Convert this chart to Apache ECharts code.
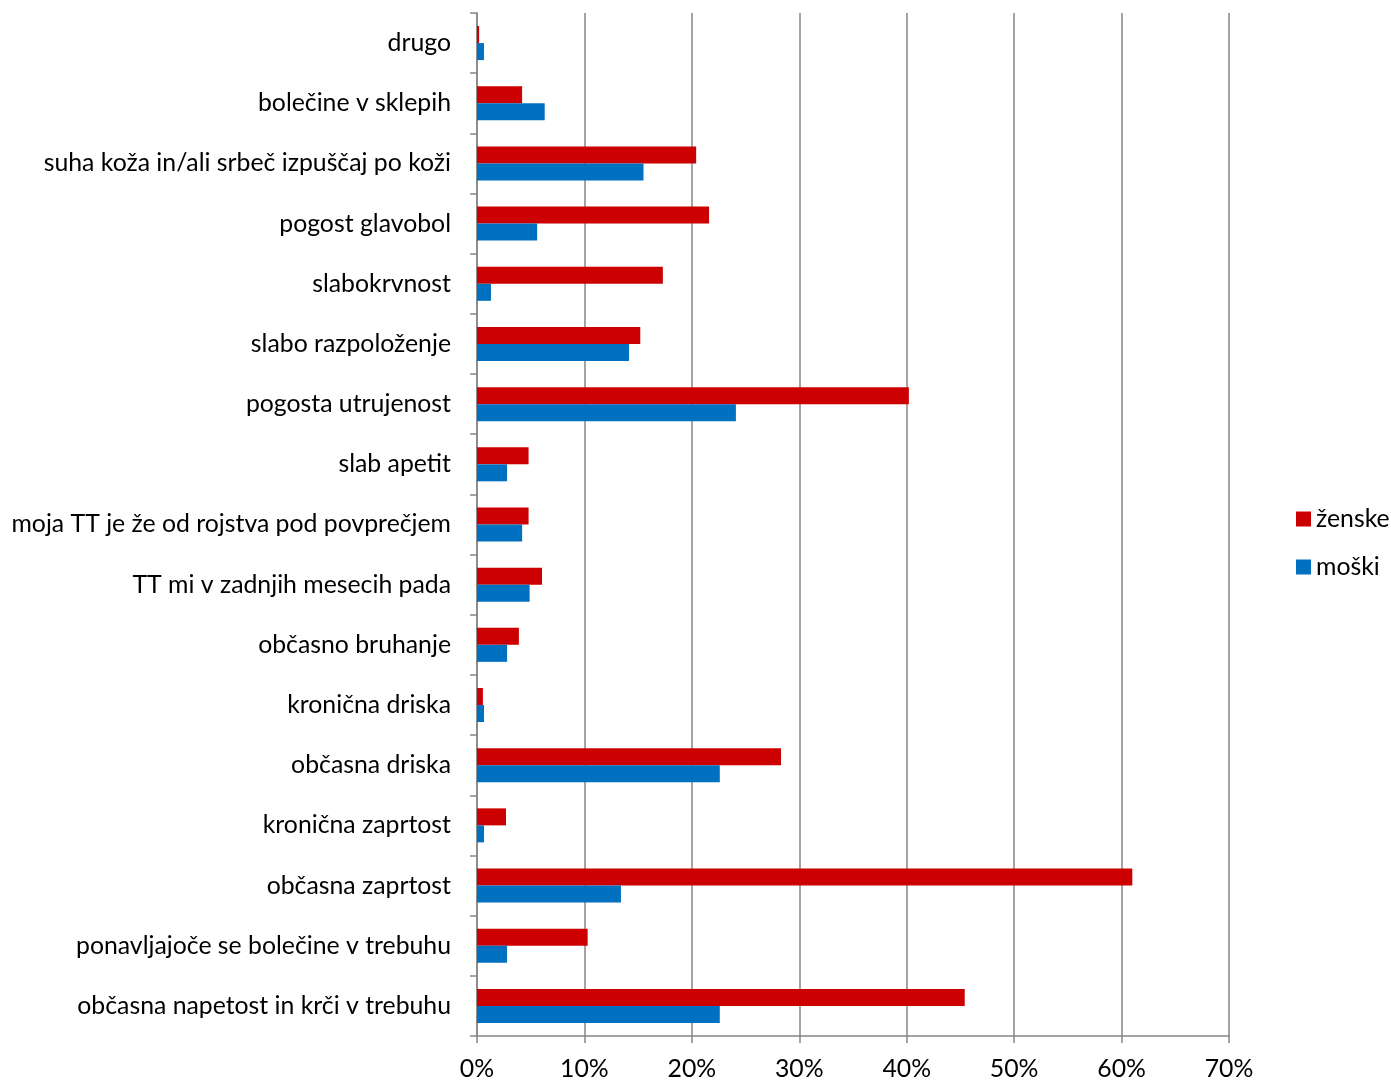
<!DOCTYPE html>
<html><head><meta charset="utf-8">
<script src="https://cdn.jsdelivr.net/npm/echarts@6/dist/echarts.min.js"></script>
<style>html,body{margin:0;padding:0;background:#fff}#c{width:1391px;height:1083px}</style>
</head><body><div id="c"></div>
<script>
const categories = ['občasna napetost in krči v trebuhu','ponavljajoče se bolečine v trebuhu','občasna zaprtost','kronična zaprtost','občasna driska','kronična driska','občasno bruhanje','TT mi v zadnjih mesecih pada','moja TT je že od rojstva pod povprečjem','slab apetit','pogosta utrujenost','slabo razpoloženje','slabokrvnost','pogost glavobol','suha koža in/ali srbeč izpuščaj po koži','bolečine v sklepih','drugo'];
const zenske = [45.4,10.3,61.0,2.7,28.3,0.55,3.9,6.05,4.8,4.8,40.2,15.2,17.3,21.6,20.4,4.2,0.2];
const moski  = [22.6,2.8,13.4,0.65,22.6,0.65,2.8,4.9,4.2,2.8,24.1,14.15,1.3,5.6,15.5,6.3,0.65];
const seriesNames = ['ženske','moški'];
const xTicks = {min:0, max:70, interval:10};

const chart = echarts.init(document.getElementById('c'));
const font = 'Lato';
const fs = 24.8;
chart.setOption({
  animation:false,
  grid:{left:477, right:162, top:13, bottom:47, containLabel:false},
  legend:{
    orient:'vertical', left:1291, top:501, itemWidth:15, itemHeight:15, itemGap:22,
    data:seriesNames, icon:'rect',
    textStyle:{fontFamily:font, fontSize:fs, color:'#000', lineHeight:26}
  },
  xAxis:{
    type:'value', min:xTicks.min, max:xTicks.max, interval:xTicks.interval,
    axisLine:{show:true, lineStyle:{color:'#868686', width:1.5}},
    axisTick:{show:true, length:7, lineStyle:{color:'#868686', width:1.5}},
    splitLine:{show:true, lineStyle:{color:'#868686', width:1.5}},
    axisLabel:{formatter:'{value}%', fontFamily:font, fontSize:fs, color:'#000', margin:21}
  },
  yAxis:{
    type:'category', data:categories,
    axisLine:{show:true, lineStyle:{color:'#868686', width:1.5}},
    axisTick:{show:true, length:7, lineStyle:{color:'#868686', width:1.5}},
    axisLabel:{fontFamily:font, fontSize:fs, color:'#000', margin:26}
  },
  series:[
    {name:seriesNames[0], type:'bar', data:zenske, barWidth:17, barGap:'0%', itemStyle:{color:'#CC0000'}},
    {name:seriesNames[1], type:'bar', data:moski, barWidth:17, barGap:'0%', itemStyle:{color:'#0070C0'}}
  ]
});
</script></body></html>
